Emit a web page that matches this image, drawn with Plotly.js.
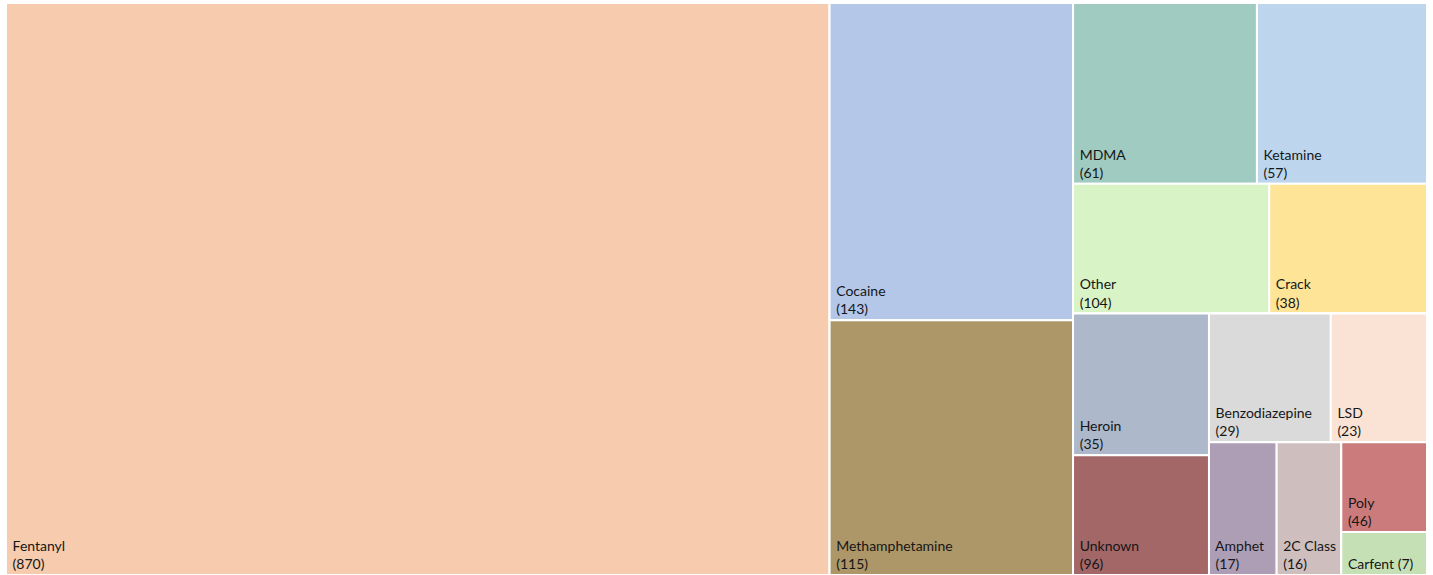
<!DOCTYPE html>
<html>
<head>
<meta charset="utf-8">
<script src="https://cdn.plot.ly/plotly-3.0.1.min.js"></script>
<style>html,body{margin:0;padding:0;background:#fff;}#chart{width:1433px;height:575px;}</style>
</head>
<body>
<div id="chart"></div>
<script>
// Categories and displayed counts
const categories = ["Fentanyl","Cocaine","Methamphetamine","MDMA","Ketamine","Other","Crack","Heroin","Unknown","Benzodiazepine","LSD","Amphet","2C Class","Poly","Carfent"];
const counts = [870,143,115,61,57,104,38,35,96,29,23,17,16,46,7];
// Relative tile sizes (not proportional to the counts)
const tileSizes = [4719,774,621,333,308,255,205,193,163,157,124,90,86,77,37];
const tileColors = ["#F7CBAD","#B4C7E9","#AD9768","#A0CBC1","#BDD6EE","#D8F3C6","#FEE496","#ADB8CB","#A36768","#DADADA","#FAE3D4","#AE9EB5","#CFBEBE","#CB7B7B","#C5E0B4"];
// Nesting of the tiles (indices into categories), alternating column / row splits
const tileLayout = [0, [1,2], [[3,4],[5,6],[[7,8],[[9,10],[11,12,[13,14]]]]]];

const ids = [], parents = [], values = [], texts = [], colors = [];
const pad = "\u00A0";
let gcount = 0;
function build(node, parentId) {
  if (Array.isArray(node)) {
    const id = "group" + (gcount++);
    const pos = ids.length;
    ids.push(id); parents.push(parentId); values.push(0); texts.push(""); colors.push("#ffffff");
    let sum = 0;
    node.forEach(ch => { sum += build(ch, id); });
    values[pos] = sum;
    return sum;
  } else {
    const i = node;
    ids.push(categories[i]); parents.push(parentId); values.push(tileSizes[i]);
    const sep = tileSizes[i] < 50 ? " " : "<br>" + pad;
    texts.push(pad + categories[i] + sep + "(" + counts[i] + ")");
    colors.push(tileColors[i]);
    return tileSizes[i];
  }
}
build(tileLayout, "");

const trace = {
  type: "treemap",
  ids: ids,
  labels: ids,
  parents: parents,
  values: values,
  branchvalues: "total",
  sort: false,
  text: texts,
  textinfo: "text",
  texttemplate: "%{text}",
  textposition: "bottom left",
  textfont: {family: "Lato, 'Open Sans', sans-serif", size: 14, color: "#161616"},
  hoverinfo: "skip",
  tiling: {packing: "slice-dice", pad: 0},
  marker: {
    colors: colors,
    line: {color: "#ffffff", width: 2},
    pad: {t: 0, l: 0, r: 0, b: 0}
  },
  pathbar: {visible: false}
};

const layout = {
  width: 1433,
  height: 575,
  margin: {l: 6, r: 6, t: 3, b: 0},
  paper_bgcolor: "#ffffff",
  showlegend: false
};

Plotly.newPlot("chart", [trace], layout, {displayModeBar: false, staticPlot: true});
</script>
</body>
</html>
